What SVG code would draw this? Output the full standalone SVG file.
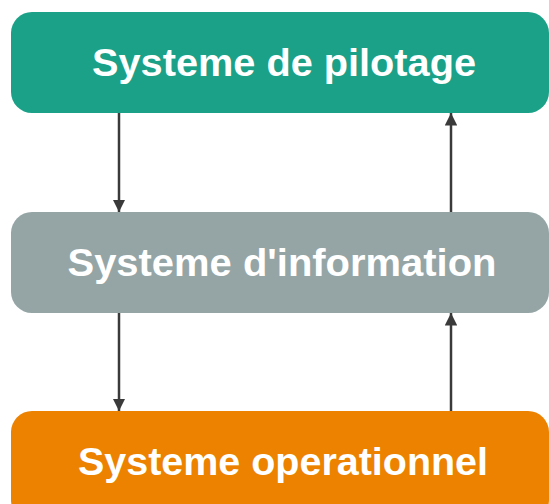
<svg xmlns="http://www.w3.org/2000/svg" width="549" height="504" viewBox="0 0 549 504">
<style>
.lbl{font-family:"Liberation Sans",Arial,sans-serif;font-weight:bold;font-size:38px;fill:#ffffff;text-anchor:middle}
.conn{stroke:#3a3a3a;stroke-width:2.5;fill:none}
</style>
<defs>
<marker id="ah" viewBox="0 0 10 10" refX="10" refY="5" markerWidth="5" markerHeight="5" markerUnits="strokeWidth" orient="auto">
<path d="M0,0 L10,5 L0,10 z" fill="#3a3a3a"/>
</marker>
</defs>
<rect width="549" height="504" fill="#ffffff"/>
<g id="connectors">
<line class="conn" x1="119" y1="113" x2="119" y2="212" marker-end="url(#ah)"/>
<line class="conn" x1="451" y1="212" x2="451" y2="113" marker-end="url(#ah)"/>
<line class="conn" x1="119" y1="313" x2="119" y2="411" marker-end="url(#ah)"/>
<line class="conn" x1="451" y1="411" x2="451" y2="313" marker-end="url(#ah)"/>
</g>
<g id="pilotage">
<rect x="11" y="12" width="538" height="101" rx="21" fill="#1aa188"/>
<text class="lbl" x="284" y="76" textLength="384" lengthAdjust="spacingAndGlyphs">Systeme de pilotage</text>
</g>
<g id="information">
<rect x="11" y="212" width="538" height="101" rx="21" fill="#95a5a6"/>
<text class="lbl" x="282" y="276" textLength="429" lengthAdjust="spacingAndGlyphs">Systeme d'information</text>
</g>
<g id="operationnel">
<rect x="11" y="411" width="538" height="110" rx="21" fill="#ec8200"/>
<text class="lbl" x="283" y="475" textLength="410" lengthAdjust="spacingAndGlyphs">Systeme operationnel</text>
</g>
</svg>
